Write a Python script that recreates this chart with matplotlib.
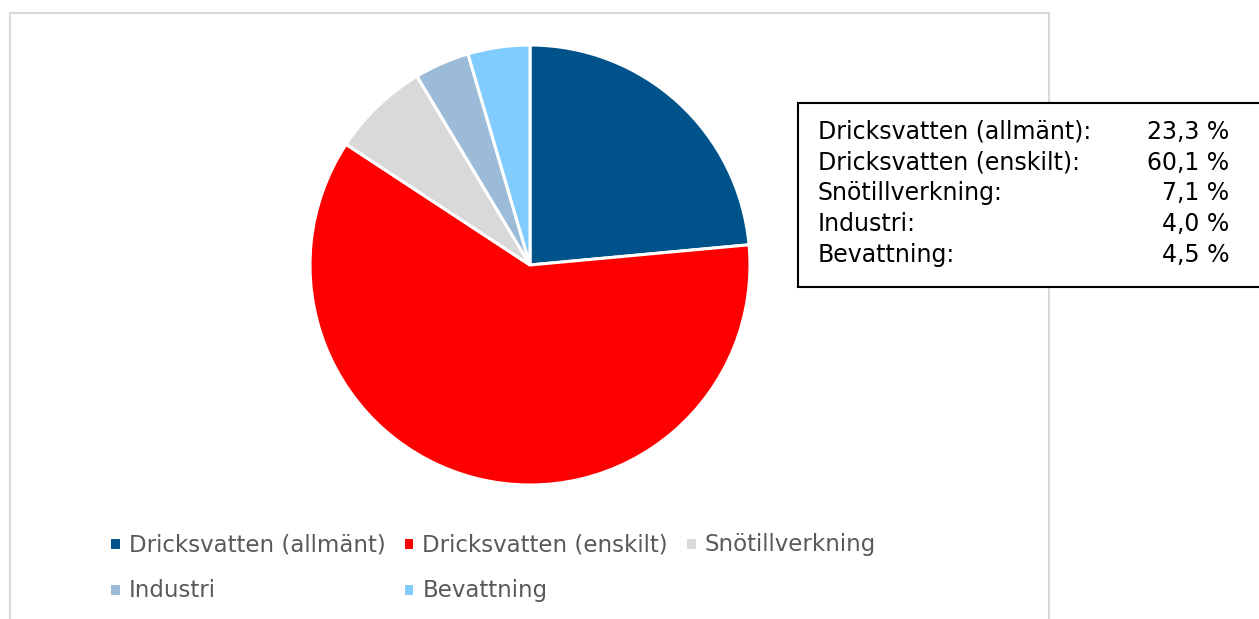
import matplotlib as mpl
import matplotlib.pyplot as plt
from matplotlib.patches import Rectangle

categories = ['Dricksvatten (allmänt)', 'Dricksvatten (enskilt)',
              'Snötillverkning', 'Industri', 'Bevattning']
shares = [23.3, 60.1, 7.1, 4.0, 4.5]
share_labels = ['23,3 %', '60,1 %', '7,1 %', '4,0 %', '4,5 %']
colors = ['#00538A', '#FF0000', '#D9D9D9', '#9BBBD9', '#80CCFF']

dpi = 100
W, H = 1259, 619
fig = plt.figure(dpi=dpi, figsize=(W / dpi, H / dpi))
mpl.rcParams.update({'font.family': 'DejaVu Sans'})

# outer chart frame (bottom edge runs off the picture)
fig.patches.append(Rectangle((10 / W, -0.05), 1039 / W, (619 - 13) / H + 0.05,
                             transform=fig.transFigure, fill=False,
                             edgecolor='#D9D9D9', linewidth=1.5))

# pie, centre (530, 265) px, radius 220 px
cx, cy, r = 530, 265, 220
ax = fig.add_axes([(cx - r) / W, (H - cy - r) / H, 2 * r / W, 2 * r / H])
wedges, _ = ax.pie(shares, colors=colors, startangle=90, counterclock=False,
                   wedgeprops=dict(edgecolor='white', linewidth=2.2))
ax.set_xlim(-1, 1)
ax.set_ylim(-1, 1)
ax.set_aspect('auto')

# bottom legend, row-major order in 3 columns
order = [0, 3, 1, 4, 2]
fig.legend([wedges[i] for i in order], [categories[i] for i in order],
           ncol=3, loc='upper left', bbox_to_anchor=(98 / W, 1 - 522 / H),
           frameon=False, fontsize=16.5, labelcolor='#595959',
           handlelength=0.5, handleheight=0.5, handletextpad=0.35,
           columnspacing=0.75, labelspacing=1.0, borderpad=0)

# text box with the shares
fig.patches.append(Rectangle((798 / W, 1 - 287 / H), (1270 - 798) / W, 184 / H,
                             transform=fig.transFigure, facecolor='white',
                             edgecolor='black', linewidth=1.5, zorder=3))
for i, (name, val) in enumerate(zip(categories, share_labels)):
    y = 1 - (132 + i * 30.7) / H
    fig.text(818 / W, y, name + ':', fontsize=17, va='center', ha='left',
             color='black', zorder=4)
    fig.text(1229 / W, y, val, fontsize=17, va='center', ha='right',
             color='black', zorder=4)

fig.savefig('out.png', dpi=dpi)
